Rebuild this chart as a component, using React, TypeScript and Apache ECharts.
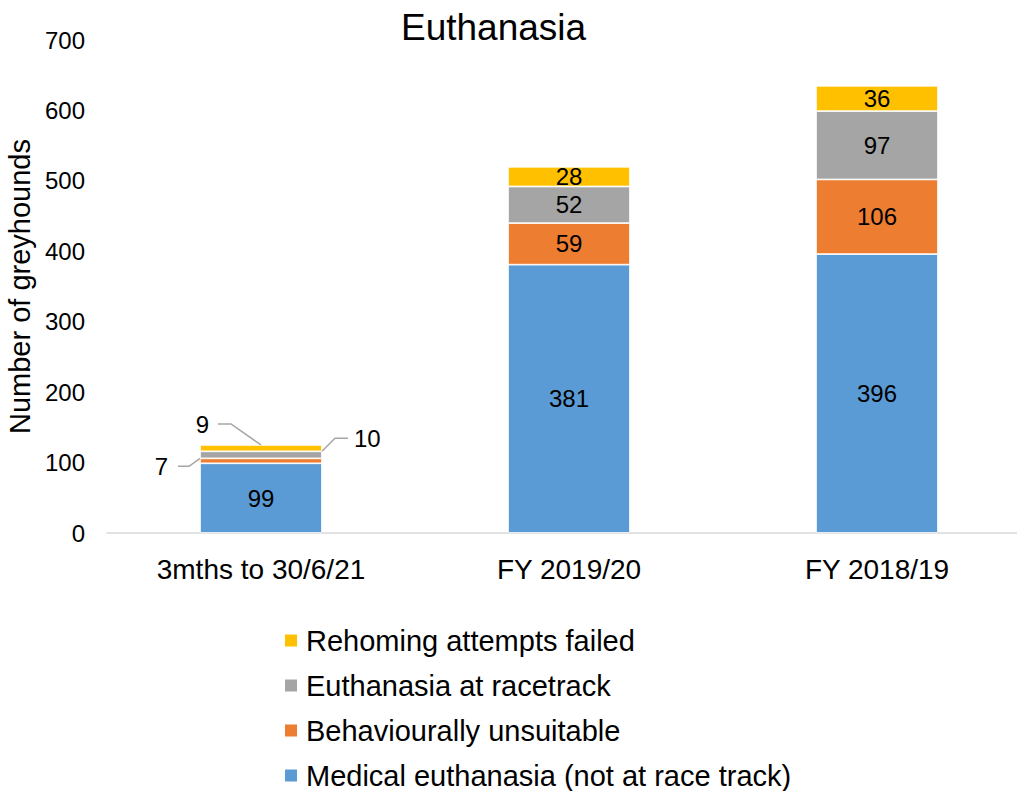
import React, { useEffect, useRef } from 'react';
import * as echarts from 'echarts';

const categories = ['3mths to 30/6/21', 'FY 2019/20', 'FY 2018/19'];
const medical = [99, 381, 396];
const behavioural = [7, 59, 106];
const racetrack = [10, 52, 97];
const rehoming = [9, 28, 36];
const seriesNames = [
  'Medical euthanasia (not at race track)',
  'Behaviourally unsuitable',
  'Euthanasia at racetrack',
  'Rehoming attempts failed',
];
const seriesValues = [medical, behavioural, racetrack, rehoming];
const colors = ['#5B9BD5', '#ED7D31', '#A5A5A5', '#FFC000'];
const yMin = 0;
const yMax = 700;
const yInterval = 100;
// category whose small segments get callout labels
const calloutCategory = 0;

const FONT = '"Liberation Sans", Arial, sans-serif';
const BAR_RATIO = 0.396;

// callout styling per series index (pixel offsets, relative to segment top edge)
const calloutStyle: Record<number, { anchor: 'left' | 'right' | 'center'; bend: number[]; end: number[]; text: number[]; align: string }> = {
  1: { anchor: 'left', bend: [-11, 8], end: [-22, 8], text: [-32, 8], align: 'right' },
  2: { anchor: 'right', bend: [13, -13], end: [26, -13], text: [32, -13], align: 'left' },
  3: { anchor: 'center', bend: [-30, -21], end: [-43, -21], text: [-52, -20], align: 'right' },
};

export default function App() {
  const ref = useRef<HTMLDivElement>(null);
  useEffect(() => {
    document.body.style.margin = '0';
    const chart = echarts.init(ref.current!, null, { renderer: 'svg' });

    const barSeries = seriesValues.map((vals, si) => ({
      name: seriesNames[si],
      type: 'bar',
      stack: 'total',
      barWidth: (BAR_RATIO * 100).toFixed(1) + '%',
      itemStyle: { color: colors[si], borderColor: '#ffffff', borderWidth: 0.8 },
      label: {
        show: true,
        position: 'inside',
        color: '#000',
        fontSize: 24,
        fontFamily: FONT,
      },
      data: vals.map((v, i) =>
        i === calloutCategory && calloutStyle[si] ? { value: v, label: { show: false } } : v
      ),
    }));

    // callout data: [category index, stack base, value, series index]
    const calloutData: number[][] = [];
    Object.keys(calloutStyle).forEach((k) => {
      const si = Number(k);
      let base = 0;
      for (let j = 0; j < si; j++) base += seriesValues[j][calloutCategory];
      calloutData.push([calloutCategory, base, seriesValues[si][calloutCategory], si]);
    });

    const calloutSeries = {
      type: 'custom',
      name: 'callouts',
      silent: true,
      z: 5,
      encode: { x: 0, y: 1 },
      data: calloutData,
      renderItem: (params: any, api: any) => {
        const cat = api.value(0);
        const base = api.value(1);
        const val = api.value(2);
        const si = api.value(3);
        const cfg = calloutStyle[si];
        const top = api.coord([cat, base + val]);
        const barW = api.size([1, 0])[0] * BAR_RATIO;
        const ax =
          cfg.anchor === 'left' ? top[0] - barW / 2 : cfg.anchor === 'right' ? top[0] + barW / 2 : top[0];
        const ay = top[1];
        return {
          type: 'group',
          children: [
            {
              type: 'polyline',
              shape: {
                points: [
                  [ax, ay],
                  [ax + cfg.bend[0], ay + cfg.bend[1]],
                  [ax + cfg.end[0], ay + cfg.end[1]],
                ],
              },
              style: { stroke: '#A6A6A6', lineWidth: 1.5, fill: null },
            },
            {
              type: 'text',
              style: {
                text: String(val),
                x: ax + cfg.text[0],
                y: ay + cfg.text[1],
                align: cfg.align,
                verticalAlign: 'middle',
                fontSize: 24,
                fontFamily: FONT,
                fill: '#000',
              },
            },
          ],
        };
      },
    };

    chart.setOption({
      animation: false,
      color: colors,
      title: {
        text: 'Euthanasia',
        left: 396,
        top: 4,
        textStyle: { fontSize: 37, fontWeight: 'normal', color: '#000', fontFamily: FONT },
      },
      grid: {
        left: 107,
        width: 924,
        top: 40,
        bottom: 258,
        containLabel: false,
        outerBoundsMode: 'none',
      },
      legend: {
        orient: 'vertical',
        left: 283,
        top: 626,
        height: 190,
        padding: 0,
        itemWidth: 14,
        itemHeight: 14,
        itemGap: 16,
        icon: 'rect',
        data: seriesNames.slice().reverse(),
        textStyle: {
          fontSize: 29,
          lineHeight: 28,
          color: '#000',
          fontFamily: FONT,
          padding: [0, 0, 0, 3],
        },
      },
      xAxis: {
        type: 'category',
        data: categories,
        axisLine: { lineStyle: { color: '#D9D9D9', width: 1.5 } },
        axisTick: { show: false },
        axisLabel: { fontSize: 28, color: '#000', margin: 22, fontFamily: FONT },
      },
      yAxis: {
        type: 'value',
        min: yMin,
        max: yMax,
        interval: yInterval,
        name: 'Number of greyhounds',
        nameLocation: 'middle',
        nameGap: 72,
        nameTextStyle: { fontSize: 29, color: '#000', fontFamily: FONT },
        axisLine: { show: false },
        axisTick: { show: false },
        splitLine: { show: false },
        axisLabel: { fontSize: 24, color: '#000', margin: 22, fontFamily: FONT },
      },
      series: [...barSeries, calloutSeries],
    });
    return () => chart.dispose();
  }, []);
  return <div ref={ref} style={{ width: 1017, height: 791 }} />;
}
